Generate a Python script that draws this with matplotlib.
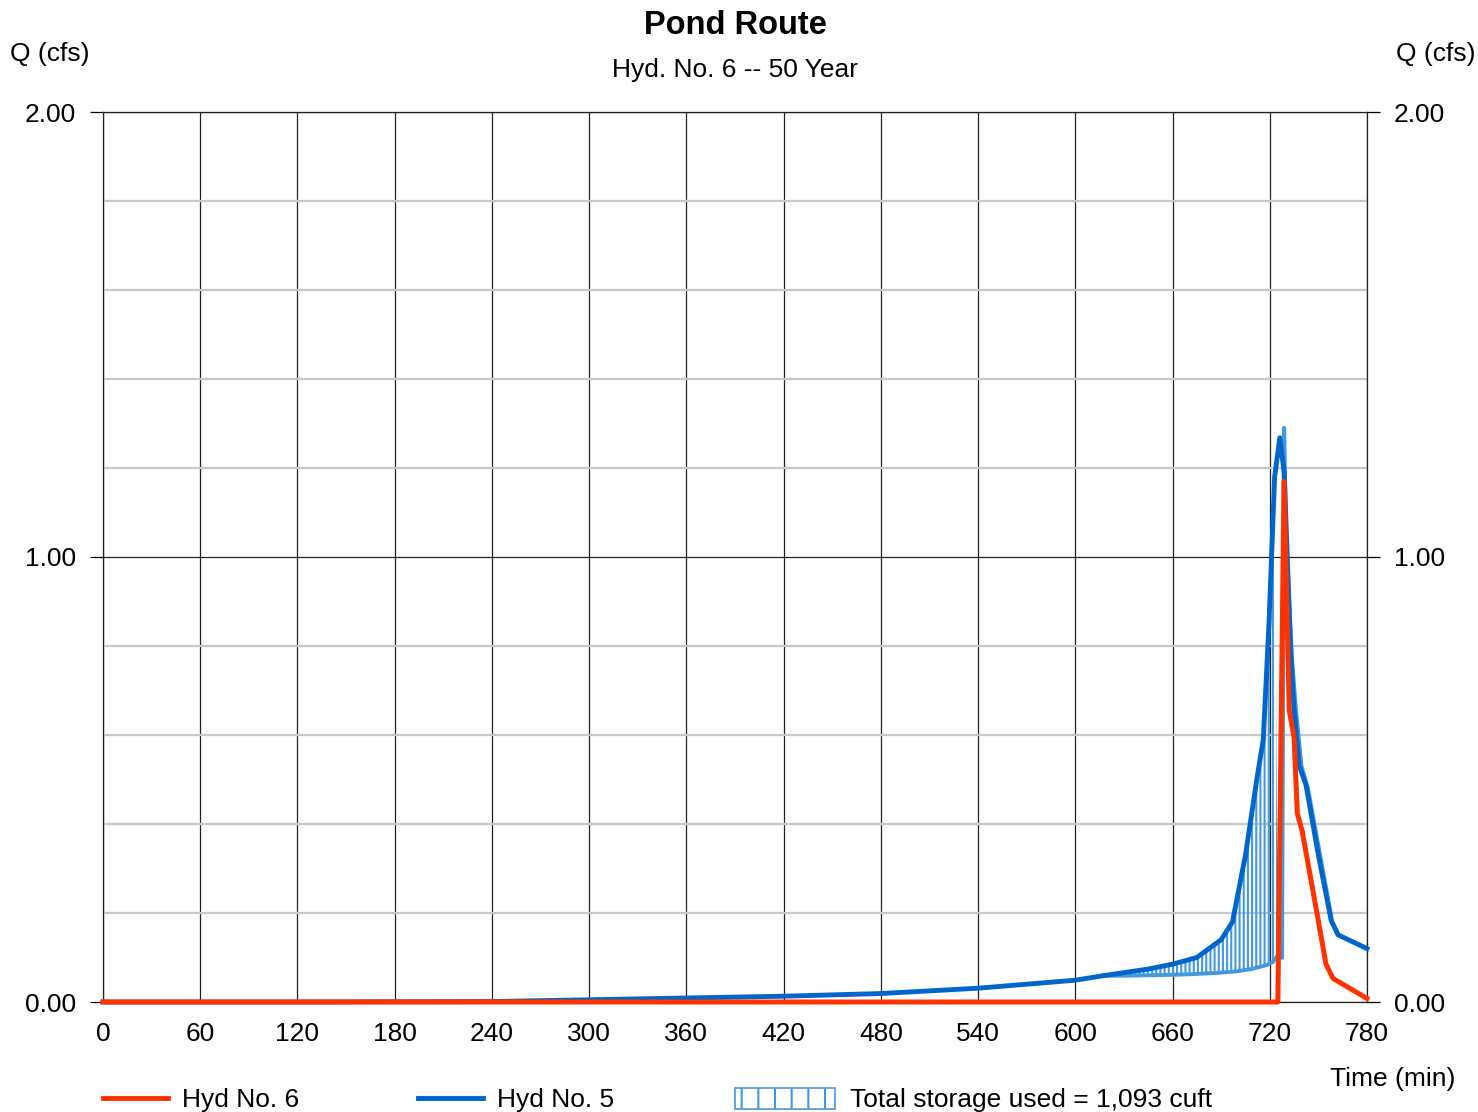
import numpy as np
import matplotlib
matplotlib.use("Agg")
import matplotlib.pyplot as plt
from matplotlib.lines import Line2D
from matplotlib.patches import Patch

plt.rcParams['font.family'] = ['Liberation Sans', 'DejaVu Sans']
plt.rcParams['hatch.linewidth'] = 1.5

# Hyd No. 5 (inflow)
t_in = [0, 120, 240, 300, 360, 420, 480, 540, 600, 617, 630, 645, 660, 675, 690, 697,
        705, 712, 716, 719.5, 723, 726.2, 728.9, 733, 735, 738.2, 742.4, 750, 757.9, 762.1, 780]
q_in = [0, 0, 0.001, 0.005, 0.009, 0.013, 0.019, 0.031, 0.049, 0.059, 0.066, 0.074, 0.085, 0.100, 0.140, 0.180,
        0.330, 0.500, 0.590, 0.850, 1.180, 1.268, 1.190, 0.780, 0.656, 0.531, 0.487, 0.330, 0.183, 0.151, 0.120]

# Hyd No. 6 (outflow)
t_out = [0, 725, 728.8, 732, 735, 737, 740, 749.5, 754.7, 759, 780]
q_out = [0, 0, 1.17, 0.656, 0.594, 0.424, 0.384, 0.192, 0.085, 0.053, 0.008]

# storage shading: lower boundary
t_low = [617, 630, 645, 660, 675, 690, 700, 710, 718, 722, 725]
q_low = [0.059, 0.059, 0.060, 0.061, 0.063, 0.066, 0.069, 0.075, 0.083, 0.090, 0.105]

# storage outline after the peak
t_edge = [727.5, 728.8, 730, 733.5, 736, 739.5, 743.5, 751, 758.5, 762.5, 780]
q_edge = [0.10, 1.29, 1.05, 0.78, 0.66, 0.53, 0.48, 0.33, 0.18, 0.15, 0.12]

storage = "Total storage used = 1,093 cuft"
red, blue, light = '#ff3300', '#0066cc', '#4499dd'
fs = 19

fig = plt.figure(figsize=(14.78, 11.12), dpi=100)
ax = fig.add_axes([103/1478, 1 - 1002/1112, (1367-103)/1478, (1002-112)/1112])

# hatched storage polygon (inflow on top, lower curve reversed)
t_in_a, q_in_a = np.array(t_in), np.array(q_in)
m = (t_in_a >= t_low[0]) & (t_in_a <= t_low[-1])
poly_t = np.concatenate([t_in_a[m], np.array(t_low)[::-1]])
poly_q = np.concatenate([q_in_a[m], np.array(q_low)[::-1]])
ax.fill(poly_t, poly_q, facecolor='none', edgecolor=light, hatch='||||', lw=0, zorder=2)
ax.plot(t_low, q_low, color=light, lw=2.8, zorder=2.5, solid_capstyle='butt')
ax.plot(t_edge, q_edge, color=light, lw=3.0, zorder=2.5)

ax.plot(t_in, q_in, color=blue, lw=3.5, zorder=3, clip_on=False)
ax.plot(t_out, q_out, color=red, lw=3.6, zorder=4, clip_on=False)

ax.set_xlim(0, 780)
ax.set_ylim(0, 2)
ax.set_xticks(np.arange(0, 781, 60))
ax.set_yticks([0, 1, 2])
ax.set_yticks(np.arange(0.2, 2.0, 0.2), minor=True)
ax.set_yticklabels(['0.00', '1.00', '2.00'])
ax.set_axisbelow(True)
ax.grid(axis='x', which='major', color='#222222', lw=0.9)
ax.grid(axis='y', which='major', color='#222222', lw=0.9)
ax.grid(axis='y', which='minor', color='#c8c8c8', lw=1.6)
ax.tick_params(axis='x', length=0, pad=14.5, labelsize=fs)
ax.tick_params(axis='y', which='major', length=9.5, width=0.9, pad=10, labelsize=fs,
               left=True, right=True, labelleft=True, labelright=True)
ax.tick_params(axis='y', which='minor', length=0)
for s in ax.spines.values():
    s.set_color('#222222')
    s.set_linewidth(0.9)

cx = (103 + 1367) / 2 / 1478
fig.text(cx, 1 - 25/1112, "Pond Route", ha='center', va='center', fontsize=23.5, fontweight='bold')
fig.text(cx, 1 - 70/1112, "Hyd. No. 6 -- 50 Year", ha='center', va='center', fontsize=fs)
fig.text(10/1478, 1 - 54/1112, "Q (cfs)", ha='left', va='center', fontsize=fs)
fig.text(1476/1478, 1 - 54/1112, "Q (cfs)", ha='right', va='center', fontsize=fs)
fig.text(1455/1478, 1 - 1079/1112, "Time (min)", ha='right', va='center', fontsize=fs)

# legend row along the bottom
ly = 1 - 1100/1112
leg_kw = dict(loc='center left', frameon=False, fontsize=fs, borderpad=0, borderaxespad=0,
              handletextpad=0.55)
fig.legend(handles=[Line2D([], [], color=red, lw=3.5)], labels=["Hyd No. 6"],
           bbox_to_anchor=(103/1478, ly), handlelength=2.45, **leg_kw)
fig.legend(handles=[Line2D([], [], color=blue, lw=3.5)], labels=["Hyd No. 5"],
           bbox_to_anchor=(418/1478, ly), handlelength=2.45, **leg_kw)
fig.legend(handles=[Patch(facecolor='white', edgecolor=light, hatch='|', lw=1.2)], labels=[storage],
           bbox_to_anchor=(735/1478, ly), handlelength=3.8, handleheight=0.85, **leg_kw)

fig.savefig("out.png", dpi=100)
